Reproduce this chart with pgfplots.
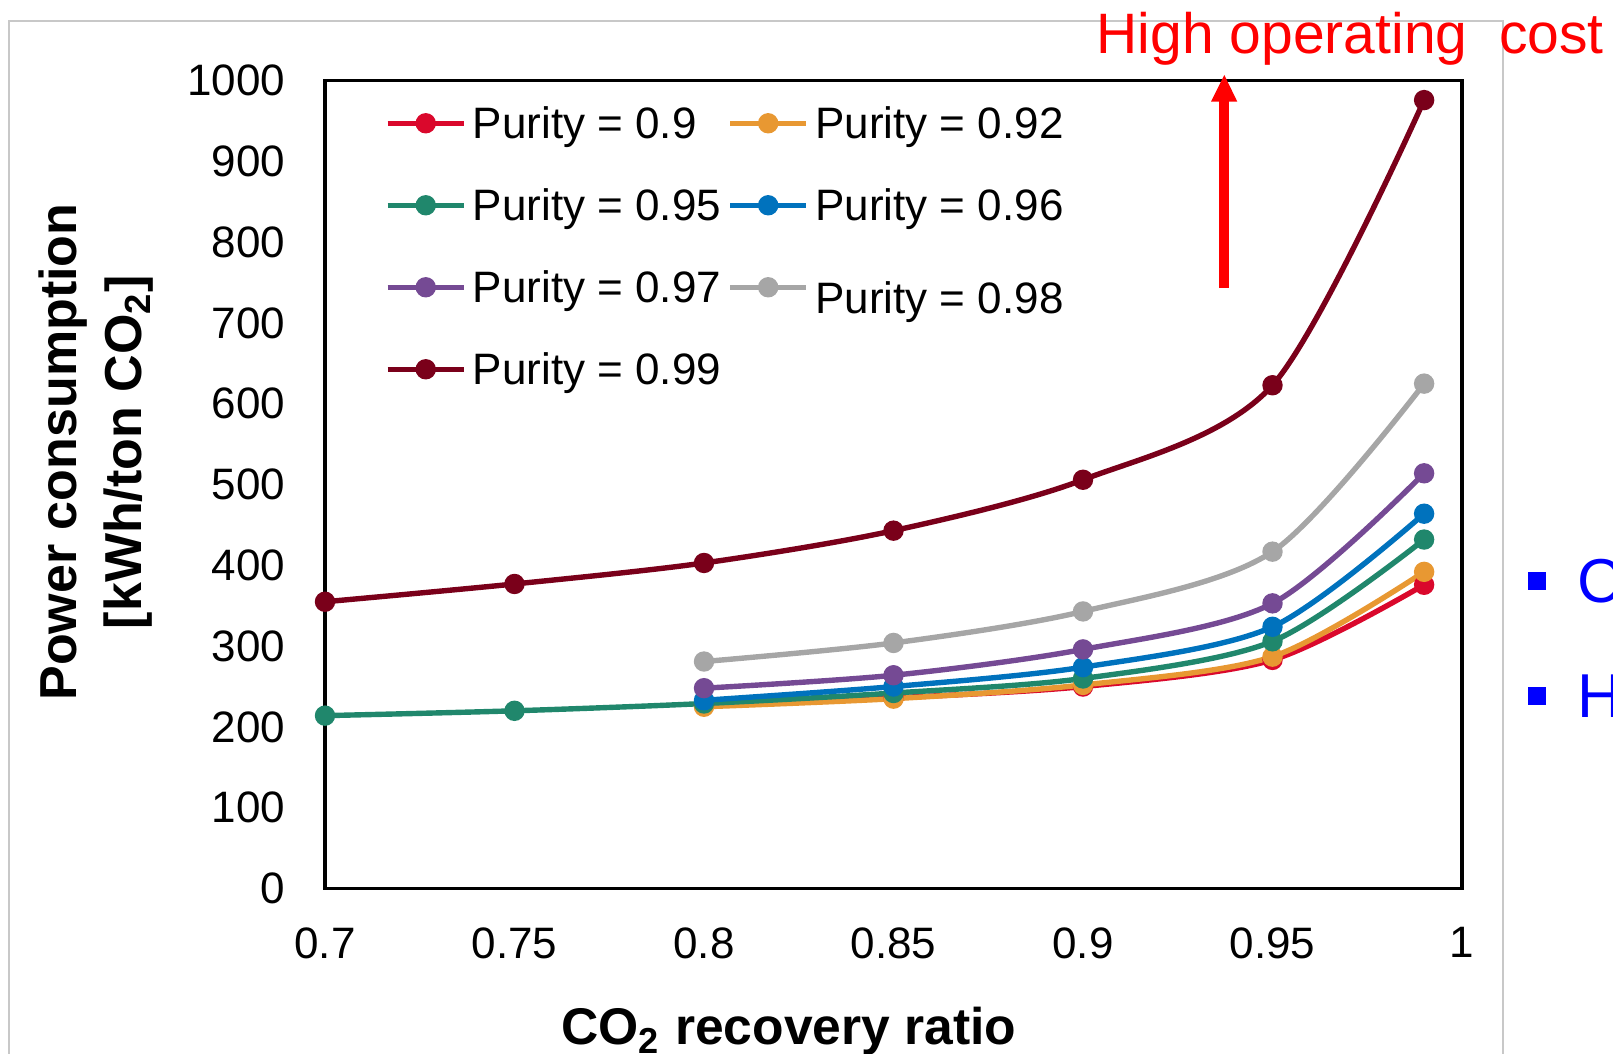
\documentclass[border=0pt]{standalone}
\usepackage{fontspec}
\setmainfont{Liberation Sans}
\usepackage{pgfplots}
\pgfplotsset{compat=1.18}

\definecolor{pA}{RGB}{218,8,44}
\definecolor{pB}{RGB}{232,152,50}
\definecolor{pC}{RGB}{32,135,108}
\definecolor{pD}{RGB}{0,114,189}
\definecolor{pE}{RGB}{117,74,148}
\definecolor{pF}{RGB}{166,166,166}
\definecolor{pG}{RGB}{122,0,26}
\definecolor{frame}{RGB}{200,200,200}

\begin{document}
\begin{tikzpicture}
\useasboundingbox (0,0) rectangle (403.25pt,263.25pt);

\begin{axis}[
    at={(81.25pt,41.125pt)}, anchor=south west,
    scale only axis,
    width=284.25pt, height=201.95pt,
    xmin=0.7, xmax=1, ymin=0, ymax=1000,
    xtick={0.7,0.75,0.8,0.85,0.9,0.95,1},
    ytick={0,100,200,300,400,500,600,700,800,900,1000},
    scaled ticks=false,
    /pgf/number format/assume math mode=true,
    /pgf/number format/1000 sep={},
    tick style={draw=none},
    tick label style={font=\fontsize{11}{13}\selectfont, inner sep=0pt},
    xticklabel style={yshift=-9.5pt},
    yticklabel style={xshift=-9.75pt},
    axis line style={line width=0.8pt},
    clip=false,
    every axis plot/.append style={line width=1.35pt, smooth, tension=0.5,
      mark=*, mark size=2.35pt, mark options={line width=0.4pt}},
    legend columns=2,
    legend cell align=left,
    legend style={draw=none, fill=none, at={(0.0521,0.9686)}, anchor=north west,
      inner sep=0pt, font=\fontsize{11}{13}\selectfont, row sep=12.3pt,
      nodes={inner xsep=1.6pt, inner ysep=0pt, text height=8pt, text depth=0.2pt},
      /tikz/every even column/.append style={column sep=0pt}},
    legend image code/.code={
      \draw[mark repeat=2,mark phase=2] plot coordinates {(0pt,0pt) (9.5pt,0pt) (19pt,0pt)};},
  ]

  \addplot[color=pA] coordinates {
      (0.8,227) (0.85,236) (0.9,250) (0.95,283) (0.99,376)
    };
  \addlegendentry{Purity = 0.9}

  \addplot[color=pB] coordinates {
      (0.8,225) (0.85,235) (0.9,252) (0.95,287) (0.99,392)
    };
  \addlegendentry{Purity = 0.92}

  \addplot[color=pC] coordinates {
      (0.7,214) (0.75,220) (0.8,229) (0.85,242) (0.9,260) (0.95,306) (0.99,432)
    };
  \addlegendentry{Purity = 0.95}

  \addplot[color=pD] coordinates {
      (0.8,233) (0.85,250) (0.9,274) (0.95,324) (0.99,464)
    };
  \addlegendentry{Purity = 0.96}

  \addplot[color=pE] coordinates {
      (0.8,248) (0.85,264) (0.9,296) (0.95,353) (0.99,514)
    };
  \addlegendentry{Purity = 0.97}

  \addplot[color=pF] coordinates {
      (0.8,281) (0.85,304) (0.9,343) (0.95,417) (0.99,625)
    };
  \addlegendentry{\raisebox{-2.6pt}{Purity = 0.98}}

  \addplot[color=pG] coordinates {
      (0.7,355) (0.75,377) (0.8,403) (0.85,443) (0.9,506) (0.95,623) (0.99,976)
    };
  \addlegendentry{Purity = 0.99}

\end{axis}

% annotations, in reference pixels (y downwards)
\begin{scope}[shift={(0,263.25pt)}, x=0.25pt, y=-0.25pt]
  \clip (0,0) rectangle (1613,1053);
  \draw[frame, line width=0.45pt] (9,1060) -- (9,21) -- (1503,21) -- (1503,1060);

  \node[anchor=base west, inner sep=0pt, text=red, font=\fontsize{14.25}{16}\selectfont]
    at (1096,53.3) {High operating\ \ cost};
  \fill[red] (1219.3,288.3) rectangle (1229.3,100);
  \fill[red] (1211,101.7) -- (1237.3,101.7) -- (1224.3,75) -- cycle;

  \node[rotate=90, anchor=base, inner sep=0pt, font=\bfseries\fontsize{13}{15}\selectfont]
    at (76,452) {Power consumption};
  \node[rotate=90, anchor=base, inner sep=0pt, font=\bfseries\fontsize{13}{15}\selectfont]
    at (142,452) {[kWh/ton CO\textsubscript{2}]};
  \node[anchor=base west, inner sep=0pt, font=\bfseries\fontsize{12.9}{15}\selectfont]
    at (560.4,1044.6) {CO\textsubscript{2} recovery ratio};

  \fill[blue] (1528.3,571.7) rectangle (1545.7,590);
  \fill[blue] (1528.3,686.7) rectangle (1545.7,705);
  \node[anchor=base west, inner sep=0pt, text=blue, font=\fontsize{15.5}{17}\selectfont]
    at (1576.7,602.5) {C};
  \node[anchor=base west, inner sep=0pt, text=blue, font=\fontsize{15.5}{17}\selectfont]
    at (1576.7,717.5) {H};
\end{scope}
\end{tikzpicture}
\end{document}
